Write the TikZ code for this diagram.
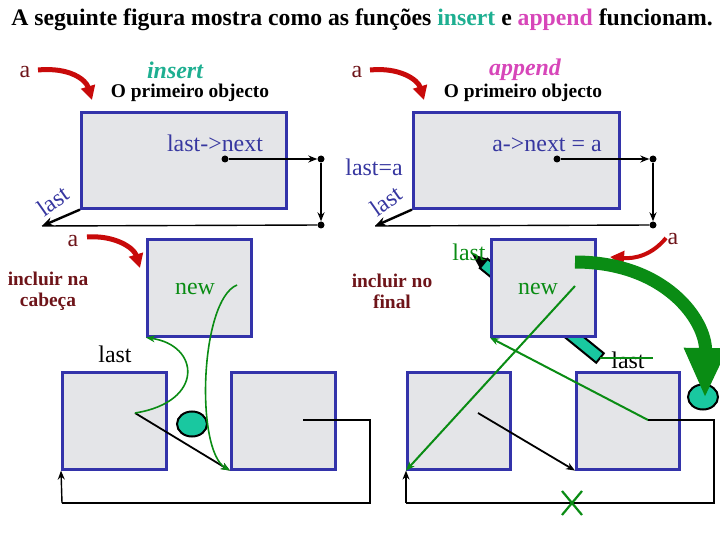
\documentclass[tikz,border=0pt]{standalone}
\usepackage{fontspec}
\setmainfont{Liberation Serif}
\usetikzlibrary{arrows.meta,positioning,calc,shapes.geometric}
\definecolor{boxblue}{RGB}{51,51,170}
\definecolor{txtblue}{RGB}{55,55,160}
\definecolor{darkred}{RGB}{110,20,25}
\definecolor{arrred}{RGB}{200,10,10}
\definecolor{insertc}{RGB}{30,175,145}
\definecolor{appendc}{RGB}{215,70,185}
\definecolor{grn}{RGB}{10,140,20}
\definecolor{bead}{RGB}{25,200,160}
\definecolor{marble}{RGB}{228,229,232}
\tikzset{
  obj/.style={draw=boxblue,line width=2.6bp,fill=marble,anchor=north west,inner sep=0pt},
  wide/.style={obj,minimum width=205bp,minimum height=96bp},
  sq/.style={obj,minimum width=104bp,minimum height=97bp},
  ptr/.style={-{Stealth[length=9bp,width=7bp]},line width=1.4bp,draw=black},
  wire/.style={line width=1.4bp,draw=black},
  dot/.style={circle,fill=black,inner sep=0pt,minimum size=7bp},
  redarr/.style={-{Triangle[length=14bp,width=14bp]},line width=5bp,draw=arrred},
  glink/.style={-{Stealth[length=9bp,width=7bp]},line width=1.6bp,draw=grn},
  bead/.style={ellipse,draw=black,line width=2bp,fill=bead,minimum width=30bp,minimum height=25bp,inner sep=0pt},
  lbl/.style={font=\fontsize{24}{26}\selectfont,inner sep=0pt},
  hd/.style={font=\fontsize{19.5}{21}\selectfont\bfseries,inner sep=0pt,align=center},
  fn/.style={font=\fontsize{24}{26}\selectfont\bfseries\itshape,inner sep=0pt}
}
\begin{document}
\begin{tikzpicture}[x=1bp,y=-1bp]
  \useasboundingbox (0,0) rectangle (720,540);
  \node[font=\fontsize{23.8}{26}\selectfont\bfseries,inner sep=0pt] (title) at (362,20)
    {A seguinte figura mostra como as funções \textcolor{insertc}{insert} e \textcolor{appendc}{append} funcionam.};

  % insert: o primeiro objecto
  \node[lbl,text=darkred] (ia) at (25,72) {a};
  \draw[redarr] (38,70) .. controls (70,67) and (86,80) .. (92,100);
  \node[fn,text=insertc] (ins) at (175,70) {insert};
  \node[hd] (ihd) at (190,93) {O primeiro objecto};
  \node[wide] (ins1) at (80,111) {};
  \node[lbl,text=txtblue] (inext) at (215,143) {last->next};
  \node[dot] (ip1) at (225,159) {};
  \node[dot] (ip2) at (321,159) {};
  \node[dot] (ip3) at (321,225) {};
  \coordinate (ip4) at (42,226);
  \draw[ptr] (ip1) -- (ip2);
  \draw[ptr] (ip2) -- (ip3);
  \draw[wire] (ip3) -- (ip4);
  \draw[-{Stealth[length=11bp,width=9bp]},line width=2.4bp] (ins1.south west) -- (ip4);
  \node[lbl,text=txtblue,rotate=35] (ilast) at (53,201) {last};

  % append: o primeiro objecto
  \node[lbl,text=darkred] (aa) at (357,72) {a};
  \draw[redarr] (370,70) .. controls (400,67) and (418,80) .. (424,100);
  \node[fn,text=appendc] (app) at (525,70) {append};
  \node[hd] (ahd) at (523,93) {O primeiro objecto};
  \node[wide,minimum width=206bp] (app1) at (412,111) {};
  \node[lbl,text=txtblue] (anext) at (547,145) {a->next = a};
  \node[lbl,text=txtblue] (alasta) at (374,167) {last=a};
  \node[dot] (ap1) at (557,159) {};
  \node[dot] (ap2) at (653,159) {};
  \node[dot] (ap3) at (653,225) {};
  \coordinate (ap4) at (375,226);
  \draw[ptr] (ap1) -- (ap2);
  \draw[ptr] (ap2) -- (ap3);
  \draw[wire] (ap3) -- (ap4);
  \draw[-{Stealth[length=11bp,width=9bp]},line width=2.4bp] (app1.south west) -- (ap4);
  \node[lbl,text=txtblue,rotate=35] (alast) at (386,201) {last};

  % incluir na cabeca
  \node[lbl,text=darkred] (ba) at (73,241) {a};
  \draw[redarr] (87,237) .. controls (115,235) and (134,248) .. (140,268);
  \node[hd,text=darkred] (cab) at (48,291) {incluir na\\cabeça};
  \node[sq] (insNew) at (146,238) {};
  \node[sq] (insA) at (61,371) {};
  \node[sq] (insB) at (230,371) {};
  \node[lbl,text=grn] (inew) at (195,289) {new};
  \node[lbl] (ilast2) at (115,354) {last};
  \coordinate (iaN) at (135,413);
  \coordinate (ibN) at (303,420);
  \coordinate (inN) at (237,285);
  \coordinate (il1) at (370,420);
  \coordinate (il2) at (370,503);
  \coordinate (il3) at (62,503);
  \node[bead] (ibead) at (192,424) {};
  \draw[ptr,line width=1.8bp] (iaN) -- (insB.south west);
  \draw[glink] (iaN) .. controls (205,402) and (200,345) .. (insNew.south west);
  \draw[glink] (inN) .. controls (200,300) and (195,450) .. (insB.south west);
  \draw[wire] (ibN) -- (il1) -- (il2) -- (il3);
  \draw[ptr] (il3) -- (insA.south west);

  % incluir no final
  \node[hd,text=darkred] (fin) at (392,291) {incluir no\\final};
  \filldraw[fill=bead,draw=black,line width=2bp]
    (483.6,263.5) -- (487.4,258.8) -- (603.8,353.3) -- (596.2,362.7) -- (479.8,268.1) -- cycle;
  \fill (472,254) -- (487.4,258.8) -- (479.8,268.1) -- cycle;
  \node[sq] (appNew) at (490,238) {};
  \node[sq,minimum width=103bp] (appA) at (406,371) {};
  \node[sq,minimum width=103bp] (appB) at (575,371) {};
  \node[lbl,text=grn] (anew) at (538,289) {new};
  \node[lbl,text=grn] (alast2) at (469,252) {last};
  \node[lbl] (alast3) at (628,360) {last};
  \draw[grn,line width=1.6bp] (600,358) -- (653,358);
  \coordinate (aaN) at (478,413);
  \coordinate (abN) at (648,420);
  \coordinate (anN) at (575,286);
  \coordinate (al1) at (714,420);
  \coordinate (al2) at (714,503);
  \coordinate (al3) at (406,503);
  \draw[ptr,line width=1.8bp] (aaN) -- (appB.south west);
  \draw[glink,line width=2bp] (abN) -- (appNew.south west);
  \draw[glink,line width=2bp] (anN) -- (appA.south west);
  \draw[wire] (abN) -- (al1) -- (al2) -- (al3);
  \draw[ptr] (al3) -- (appA.south west);
  \node[draw=none,inner sep=0pt] (cut) at (572,503) {};
  \draw[grn,line width=2.2bp] ($(cut)+(-10,-12)$) -- ($(cut)+(10,12)$)
    ($(cut)+(10,-12)$) -- ($(cut)+(-10,12)$);
  \node[lbl,text=darkred] (ra) at (673,239) {a};
  \node[bead] (abead) at (703,397) {};
  \draw[redarr,line width=4bp] (666,238) .. controls (652,255) and (635,259) .. (610,257);
  \draw[-{Triangle[length=50bp,width=40bp]},line width=13bp,draw=grn]
    (575,262) .. controls (665,262) and (706,320) .. (705,398);
\end{tikzpicture}
\end{document}
